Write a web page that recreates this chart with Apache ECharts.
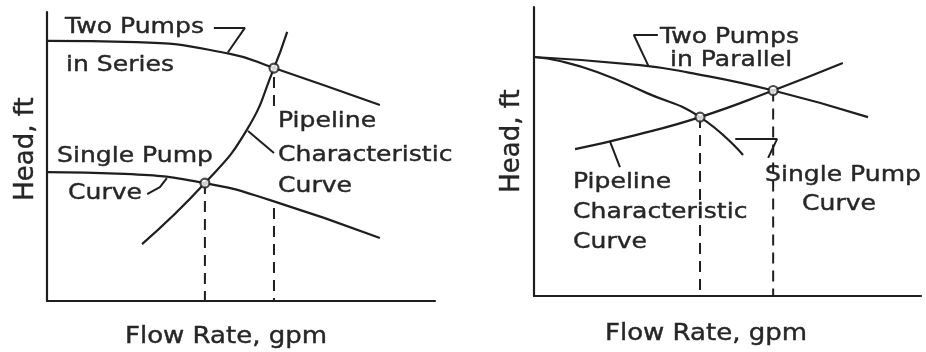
<!DOCTYPE html>
<html>
<head>
<meta charset="utf-8">
<script src="https://cdn.jsdelivr.net/npm/echarts@6/dist/echarts.min.js"></script>
<style>
html,body{margin:0;padding:0;background:#fff;}
#chart{width:926px;height:352px;}
</style>
</head>
<body>
<div id="chart"></div>
<script>
// ---------- Left panel: pumps in series (data units 0-100) ----------
const seriesTwoPumps = [[0,90.0],[23.0,89.6],[47.2,85.5],[58.5,80.6],[85.8,67.8]];
const seriesSinglePump = [[0,44.6],[20.0,44.0],[40.7,40.8],[57.5,34.9],[85.8,21.8]];
const seriesPipeline = [[24.5,19.7],[40.7,40.8],[51.5,59.2],[58.5,80.6],[61.9,93.1]];
const seriesOperatingPoints = [[40.7,40.8],[58.5,80.6]];
const seriesDrop1 = [[40.7,40.8],[40.7,0]];
const seriesDrop2a = [[58.5,77.5],[58.5,67.1]];
const seriesDrop2b = [[58.5,32.2],[58.5,0]];
const seriesLeaderTwo = [[43.0,94.5],[51.0,94.5],[46.6,86.0]];
const seriesLeaderSingle = [[25.8,37.0],[29.1,39.4],[30.9,42.5]];
const seriesLeaderPipe = [[58.5,51.2],[51.8,58.8]];

// ---------- Right panel: pumps in parallel ----------
const parallelTwoPumps = [[0,82.7],[27.4,79.9],[40.0,77.3],[61.8,71.1],[86.3,61.9]];
const parallelSinglePump = [[0,82.7],[6.7,81.3],[16.3,77.5],[29.2,70.2],[42.9,61.9],[54.0,48.8]];
const parallelPipeline = [[10.6,50.8],[26.0,55.6],[42.9,61.9],[61.8,71.1],[79.8,80.6]];
const parallelOperatingPoints = [[42.9,61.9],[61.8,71.1]];
const parallelDrop1 = [[42.9,61.9],[42.9,0]];
const parallelDrop2 = [[61.8,71.1],[61.8,0]];
const parallelLeaderTwo = [[32.0,90.3],[25.8,90.3],[29.5,79.8]];
const parallelLeaderPipe = [[19.6,53.6],[22.2,44.6]];
const parallelLeaderSingle = [[52.0,54.3],[62.8,54.3],[60.5,47.8]];

// ---------- Texts ----------
const leftLabels = [
  {t:'Two Pumps', x:65, y:27},
  {t:'in Series', x:66, y:65},
  {t:'Single Pump', x:57, y:156},
  {t:'Curve', x:68, y:193},
  {t:'Pipeline', x:278, y:121},
  {t:'Characteristic', x:278, y:155},
  {t:'Curve', x:278, y:186}
];
const rightLabels = [
  {t:'Two Pumps', x:660, y:37},
  {t:'in Parallel', x:670, y:60},
  {t:'Pipeline', x:573, y:182},
  {t:'Characteristic', x:573, y:212},
  {t:'Curve', x:573, y:242},
  {t:'Single Pump', x:765, y:175},
  {t:'Curve', x:802, y:204}
];
const axisTitleX = 'Flow Rate, gpm';
const axisTitleY = 'Head, ft';

const INK = '#1e1e1e';
const TXT = '#262626';
const FONT = '"DejaVu Sans", sans-serif';

function curve(data, g) {
  return {type:'line', xAxisIndex:g, yAxisIndex:g, data:data, smooth:0.5,
    showSymbol:false, symbol:'none', silent:true,
    lineStyle:{color:INK, width:2.2}, z:3};
}
function dashed(data, g) {
  return {type:'line', xAxisIndex:g, yAxisIndex:g, data:data, showSymbol:false, symbol:'none', silent:true,
    lineStyle:{color:INK, width:2, type:[11,7]}, z:2};
}
function leader(data, g) {
  return {type:'line', xAxisIndex:g, yAxisIndex:g, data:data, showSymbol:false, symbol:'none', silent:true,
    lineStyle:{color:INK, width:2}, z:3};
}
function points(data, g) {
  return {type:'scatter', xAxisIndex:g, yAxisIndex:g, data:data, symbol:'circle', symbolSize:9, silent:true,
    itemStyle:{color:'#fff', borderColor:INK, borderWidth:2.2}, z:5};
}
function axis(g) {
  return {type:'value', gridIndex:g, min:0, max:100,
    axisLine:{show:true, onZero:false, lineStyle:{color:INK, width:2.2}},
    axisTick:{show:false}, axisLabel:{show:false}, splitLine:{show:false}};
}
function txt(l) {
  return {type:'text', x:l.x, y:l.y, scaleX:1.14, silent:true,
    style:{text:l.t, font:'22px ' + FONT, fill:TXT, stroke:TXT, lineWidth:0.4, textAlign:'left', textVerticalAlign:'middle'}};
}

const graphics = [];
leftLabels.forEach(l => graphics.push(txt(l)));
rightLabels.forEach(l => graphics.push(txt(l)));
[[226,337],[706,334]].forEach(p => graphics.push({type:'text', x:p[0], y:p[1], scaleX:1.13, silent:true,
  style:{text:axisTitleX, font:'23px ' + FONT, fill:TXT, stroke:TXT, lineWidth:0.4, textAlign:'center', textVerticalAlign:'middle'}}));
[[26,149],[512,141]].forEach(p => graphics.push({type:'text', x:p[0], y:p[1], rotation:Math.PI/2, silent:true,
  style:{text:axisTitleY, font:'26px ' + FONT, fill:TXT, stroke:TXT, lineWidth:0.4, textAlign:'center', textVerticalAlign:'middle'}}));

const chart = echarts.init(document.getElementById('chart'), null, {renderer:'canvas'});
chart.setOption({
  animation:false,
  backgroundColor:'#fff',
  grid:[
    {left:47, top:12, width:388, height:289},
    {left:534, top:7, width:387, height:289}
  ],
  xAxis:[axis(0), axis(1)],
  yAxis:[axis(0), axis(1)],
  series:[
    curve(seriesTwoPumps,0),
    curve(seriesSinglePump,0),
    curve(seriesPipeline,0),
    dashed(seriesDrop1,0),
    dashed(seriesDrop2a,0),
    dashed(seriesDrop2b,0),
    leader(seriesLeaderTwo,0),
    leader(seriesLeaderSingle,0),
    leader(seriesLeaderPipe,0),
    points(seriesOperatingPoints,0),
    curve(parallelTwoPumps,1),
    curve(parallelSinglePump,1),
    curve(parallelPipeline,1),
    dashed(parallelDrop1,1),
    dashed(parallelDrop2,1),
    leader(parallelLeaderTwo,1),
    leader(parallelLeaderPipe,1),
    leader(parallelLeaderSingle,1),
    points(parallelOperatingPoints,1)
  ],
  graphic:graphics
});
</script>
</body>
</html>
